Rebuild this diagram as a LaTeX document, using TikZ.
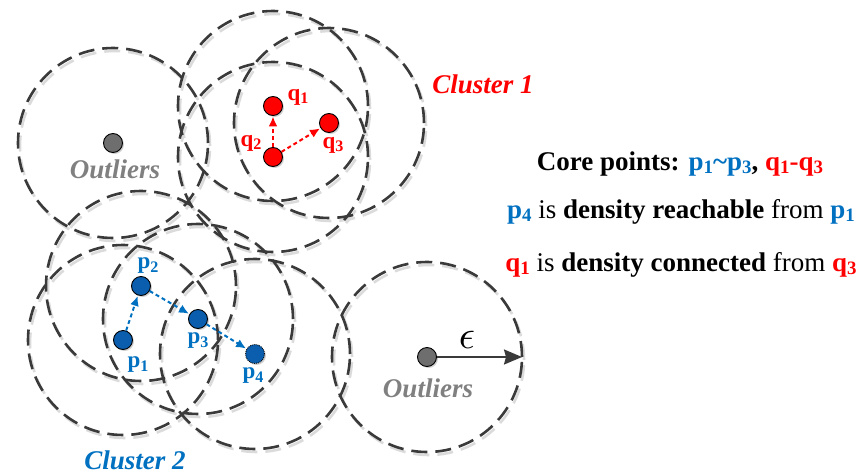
\documentclass[tikz,border=0pt]{standalone}
\usepackage{fontspec}
\setmainfont{Liberation Serif}
\usepackage{graphicx}
\usetikzlibrary{arrows.meta,shadows}
\definecolor{pblue}{HTML}{0070C0}
\definecolor{pfill}{HTML}{0B5EAE}
\definecolor{qred}{HTML}{FF0000}
\definecolor{ringgray}{HTML}{3A3A3A}
\definecolor{outgray}{HTML}{808080}
\definecolor{odotfill}{HTML}{6E6E6E}
\newcommand{\sbs}[1]{\raisebox{-0.3ex}{\scalebox{0.7}{#1}}}
\begin{document}
\begin{tikzpicture}[x=1pt,y=-1pt,
  ring/.style={draw=ringgray, line width=2.6pt, dash pattern=on 16pt off 8pt},
  ringshadow/.style={draw=black!14, line width=2.6pt, dash pattern=on 16pt off 8pt},
  dot/.style={circle, minimum size=19pt, inner sep=0pt, draw=black, line width=0.9pt,
    drop shadow={shadow xshift=1.5pt, shadow yshift=-1.5pt, fill=black!30, opacity=0.6}},
  qdot/.style={dot, fill=qred},
  pdot/.style={dot, fill=pfill},
  odot/.style={dot, fill=odotfill},
  qarr/.style={draw=qred, line width=2pt, dash pattern=on 4pt off 3pt, -{Latex[length=10pt,width=9pt]}, shorten >=0.5pt},
  parr/.style={draw=pblue, line width=2pt, dash pattern=on 4pt off 3pt, -{Latex[length=10pt,width=9pt]}, shorten >=0.5pt},
  epsarr/.style={draw=ringgray, line width=2pt, -{Stealth[length=18pt,width=15pt,inset=2pt]}},
  qlab/.style={font=\fontsize{23}{23}\selectfont\bfseries, text=qred, inner sep=0pt},
  plab/.style={font=\fontsize{23}{23}\selectfont\bfseries, text=pblue, inner sep=0pt},
  clab/.style={font=\fontsize{27}{27}\selectfont\bfseries\itshape, inner sep=0pt, anchor=base},
  info/.style={font=\fontsize{27}{27}\selectfont, anchor=base, inner sep=0pt}]
\useasboundingbox (0,0) rectangle (862,474);
% centres
\coordinate (co1) at (113,143);
\coordinate (co2) at (427,357);
\coordinate (cq1) at (273,106);
\coordinate (cq2) at (273,157);
\coordinate (cq3) at (329,123);
\coordinate (cp1) at (123,340);
\coordinate (cp2) at (141,286);
\coordinate (cp3) at (198,319);
\coordinate (cp4) at (255,354);
% eps-rings
\foreach \c in {co1,co2,cq1,cq2,cq3,cp1,cp2,cp3,cp4}
  \draw[ringshadow] ([shift={(2,3)}]\c) circle[radius=95pt];
\foreach \c in {co1,co2,cq1,cq2,cq3,cp1,cp2,cp3,cp4}
  \draw[ring] (\c) circle[radius=95pt];
% points
\node[odot] (o1) at (co1) {};
\node[odot] (o2) at (co2) {};
\node[qdot] (q1) at (cq1) {};
\node[qdot] (q2) at (cq2) {};
\node[qdot] (q3) at (cq3) {};
\node[pdot] (p1) at (cp1) {};
\node[pdot] (p2) at (cp2) {};
\node[pdot] (p3) at (cp3) {};
\node[pdot, densely dotted] (p4) at (cp4) {};
% arrows
\draw[qarr] (q2) -- (q1);
\draw[qarr] (q2) -- (q3);
\draw[parr] (p1) -- (p2);
\draw[parr] (p2) -- (p3);
\draw[parr] (p3) -- (p4);
\coordinate (epsend) at (522,357);
\draw[epsarr] (o2) -- (epsend);
\node[inner sep=0pt] (epslab) at (467,340) {\scalebox{4}{$\epsilon$}};
% point labels
\node[qlab] (lq1) at (298,97) {q\sbs{1}};
\node[qlab] (lq2) at (251,143) {q\sbs{2}};
\node[qlab] (lq3) at (333,145) {q\sbs{3}};
\node[plab] (lp1) at (138,365) {p\sbs{1}};
\node[plab] (lp2) at (148,266) {p\sbs{2}};
\node[plab] (lp3) at (198,341) {p\sbs{3}};
\node[plab] (lp4) at (253,376) {p\sbs{4}};
% cluster / outlier labels
\node[clab, text=qred] (c1) at (483,93) {Cluster 1};
\node[clab, text=pblue, text depth=0pt] (c2) at (135,469) {Cluster 2};
\node[clab, text=outgray] (out1) at (115,178) {Outliers};
\node[clab, text=outgray] (out2) at (428,397) {Outliers};
% explanation
\node[info] (line1) at (680,170) {\bfseries Core points: \textcolor{pblue}{p\sbs{1}\textasciitilde p\sbs{3}}, \textcolor{qred}{q\sbs{1}-q\sbs{3}}};
\node[info] (line2) at (681,218) {\textcolor{pblue}{\bfseries p\sbs{4}} is \textbf{density reachable} from \textcolor{pblue}{\bfseries p\sbs{1}}};
\node[info] (line3) at (681,271) {\textcolor{qred}{\bfseries q\sbs{1}} is \textbf{density connected} from \textcolor{qred}{\bfseries q\sbs{3}}};
\end{tikzpicture}
\end{document}
